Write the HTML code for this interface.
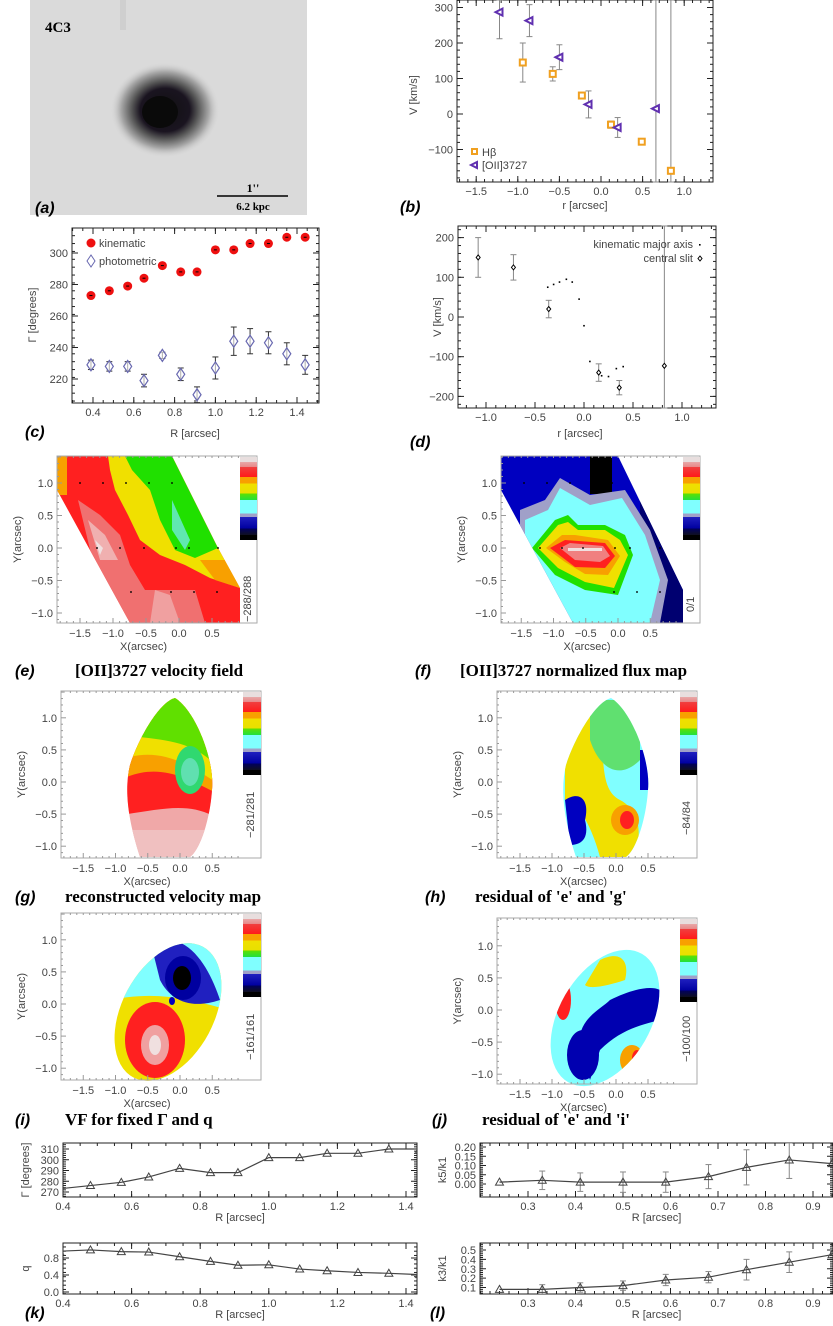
<!DOCTYPE html>
<html><head><meta charset="utf-8"><style>
html,body{margin:0;padding:0;background:#fff;}
svg{display:block;font-family:"Liberation Sans",sans-serif;}
.tl{font-size:11px;fill:#444;}
.ttl{font-family:"Liberation Serif",serif;font-weight:bold;font-size:17px;fill:#000;}
.pl{font-family:"Liberation Sans",sans-serif;font-style:italic;font-weight:bold;font-size:16px;fill:#000;}
</style></head><body>
<svg id="fig" width="833" height="1326" viewBox="0 0 833 1326" xmlns="http://www.w3.org/2000/svg">
<defs>
<radialGradient id="blob" cx="0.5" cy="0.5" r="0.5">
<stop offset="0" stop-color="#111"/><stop offset="0.45" stop-color="#1a1420"/><stop offset="0.6" stop-color="#555"/><stop offset="0.8" stop-color="#a8a8a8"/><stop offset="1" stop-color="#dcdcdc" stop-opacity="0"/>
</radialGradient>
<linearGradient id="cbar" x1="0" y1="0" x2="0" y2="1">
<stop offset="0" stop-color="#e8dede"/><stop offset="0.06" stop-color="#e8dede"/>
<stop offset="0.06" stop-color="#e8a8a8"/><stop offset="0.12" stop-color="#e88888"/>
<stop offset="0.12" stop-color="#f04040"/><stop offset="0.24" stop-color="#ff1a1a"/>
<stop offset="0.24" stop-color="#f8a000"/><stop offset="0.32" stop-color="#f8a000"/>
<stop offset="0.32" stop-color="#f0e000"/><stop offset="0.44" stop-color="#e8e000"/>
<stop offset="0.44" stop-color="#60e000"/><stop offset="0.52" stop-color="#20e040"/>
<stop offset="0.52" stop-color="#80ffff"/><stop offset="0.68" stop-color="#80ffff"/>
<stop offset="0.68" stop-color="#a0a0c8"/><stop offset="0.72" stop-color="#a0a0c8"/>
<stop offset="0.72" stop-color="#2020c0"/><stop offset="0.86" stop-color="#0000a0"/>
<stop offset="0.86" stop-color="#000060"/><stop offset="0.94" stop-color="#101020"/>
<stop offset="0.94" stop-color="#000"/><stop offset="1" stop-color="#000"/>
</linearGradient>
<clipPath id="clipE"><polygon points="57,456 172,456 218,548 240,588 240,623 130,623 57,490"/></clipPath>
<clipPath id="clipF"><polygon points="501,456 618,456 683,590 683,623 573,623 501,490"/></clipPath>
<clipPath id="clipG"><path d="M175 698 C195 710 215 760 212 790 C210 820 200 850 190 857 L140 857 C128 820 124 790 130 765 C140 735 160 702 175 698 Z"/></clipPath>
<clipPath id="clipH"><path d="M611 698 C631 710 651 760 648 790 C646 820 636 850 626 857 L576 857 C564 820 560 790 566 765 C576 735 596 702 611 698 Z"/></clipPath>
<clipPath id="clipI"><ellipse cx="168" cy="1012" rx="46" ry="74" transform="rotate(28 168 1012)"/></clipPath>
<clipPath id="clipJ"><ellipse cx="605" cy="1018" rx="46" ry="74" transform="rotate(30 605 1018)"/></clipPath>
</defs>

<!-- Panel a -->
<g>
<rect x="30" y="0" width="277" height="215" fill="#dadada"/>
<rect x="120" y="0" width="6" height="30" fill="#cfcfcf"/>
<ellipse cx="165" cy="110" rx="55" ry="48" fill="url(#blob)"/>
<ellipse cx="160" cy="112" rx="18" ry="16" fill="#0a0a0a"/>
<text x="45" y="32" font-family="Liberation Serif,serif" font-weight="bold" font-size="15">4C3</text>
<line x1="217" y1="196" x2="288" y2="196" stroke="#000" stroke-width="1.5"/>
<text x="253" y="192" text-anchor="middle" font-family="Liberation Serif,serif" font-weight="bold" font-size="12">1''</text>
<text x="253" y="210" text-anchor="middle" font-family="Liberation Serif,serif" font-weight="bold" font-size="11">6.2 kpc</text>
<text x="35" y="213" class="pl">(a)</text>
</g>

<!-- Maps -->
<g>
<g clip-path="url(#clipE)">
<rect x="50" y="450" width="200" height="180" fill="#ff2020"/>
<rect x="50" y="450" width="17" height="45" fill="#f8a000"/>
<polygon points="78,500 100,515 120,535 130,565 145,590 195,590 205,623 120,623 95,570" fill="#f07070"/>
<polygon points="88,520 105,535 118,560 100,560" fill="#f0b0b0"/>
<polygon points="95,540 103,548 100,555" fill="#f0e0e0"/>
<polygon points="155,590 170,595 180,623 150,623" fill="#f0a0a0"/>
<polygon points="108,456 172,456 218,548 240,560 240,588 210,578 185,565 160,555 140,540 128,515 115,490 110,470" fill="#f0e000"/>
<polygon points="200,560 240,560 240,588 215,580" fill="#f8a000"/>
<polygon points="125,456 172,456 218,548 195,558 175,550 160,520 150,490 132,470" fill="#20e000"/>
<polygon points="172,500 190,540 185,550 172,530" fill="#60e8b0"/>
</g>
<rect x="57" y="456" width="200" height="167" fill="none" stroke="#aaa"/>
<rect x="240" y="457" width="17" height="83" fill="url(#cbar)"/>
<text transform="translate(251,622) rotate(-90)" class="tl" font-size="10">−288/288</text>
</g>

<g>
<g clip-path="url(#clipF)">
<rect x="495" y="450" width="200" height="180" fill="#0000c0"/>
<rect x="640" y="450" width="60" height="180" fill="#000070"/>
<rect x="590" y="456" width="22" height="38" fill="#000"/>
<polygon points="520,510 545,500 560,478 590,495 625,490 650,530 668,580 660,623 560,623 540,590 520,540" fill="#a0a0c8"/>
<polygon points="525,520 548,510 560,488 590,505 622,498 645,535 660,580 650,623 565,623 545,585 525,540" fill="#80ffff"/>
<polygon points="532,548 555,520 568,515 578,525 605,525 625,535 633,555 618,595 585,590 555,575" fill="#20e000"/>
<polygon points="538,548 558,525 568,522 578,530 605,530 620,540 628,555 614,588 585,582 558,568" fill="#f0e000"/>
<polygon points="546,548 562,535 575,535 608,540 620,556 608,575 585,574 565,562" fill="#f8a000"/>
<polygon points="550,548 565,540 605,543 615,556 605,568 575,567" fill="#ff2020"/>
<polygon points="560,548 570,543 603,546 610,556 600,562 575,560" fill="#f08080"/>
<polygon points="568,548 602,548 602,551 568,551" fill="#f0e0e0"/>
</g>
<rect x="501" y="456" width="199" height="167" fill="none" stroke="#aaa"/>
<rect x="683" y="457" width="17" height="83" fill="url(#cbar)"/>
<text transform="translate(694,612) rotate(-90)" class="tl" font-size="10">0/1</text>
</g>

<g>
<g clip-path="url(#clipG)">
<rect x="120" y="690" width="100" height="170" fill="#f0a8a8"/>
<path d="M120 690 H220 V820 C190 800 160 810 120 815 Z" fill="#ff2020"/>
<path d="M120 690 H220 V795 C190 780 160 760 120 780 Z" fill="#f8a000"/>
<path d="M120 690 H220 V785 C190 765 160 745 120 760 Z" fill="#f0e000"/>
<path d="M120 690 H220 V770 C195 740 165 740 120 735 Z" fill="#60e000"/>
<ellipse cx="190" cy="770" rx="15" ry="24" fill="#30d870"/>
<ellipse cx="190" cy="772" rx="9" ry="14" fill="#60e0b0"/>
<rect x="120" y="830" width="100" height="30" fill="#f0c0c0"/>
</g>
<rect x="61" y="691" width="200" height="167" fill="none" stroke="#aaa"/>
<rect x="243" y="692" width="18" height="83" fill="url(#cbar)"/>
<text transform="translate(254,838) rotate(-90)" class="tl" font-size="10">−281/281</text>
</g>

<g>
<g clip-path="url(#clipH)">
<rect x="555" y="690" width="100" height="170" fill="#80ffff"/>
<path d="M565 760 C580 720 590 700 600 730 C605 760 600 790 620 800 C640 810 645 840 630 857 L600 857 C590 820 575 800 565 800 Z" fill="#f0e000"/>
<path d="M590 700 H640 V760 C620 780 600 770 590 740 Z" fill="#60e070"/>
<ellipse cx="625" cy="820" rx="14" ry="15" fill="#f8a000"/>
<ellipse cx="627" cy="820" rx="7" ry="9" fill="#ff2020"/>
<path d="M565 800 C580 790 590 800 585 820 C590 840 580 845 570 845 Z" fill="#0000c0"/>
<rect x="640" y="750" width="10" height="40" fill="#0000c0"/>
</g>
<rect x="497" y="691" width="200" height="167" fill="none" stroke="#aaa"/>
<rect x="680" y="692" width="17" height="83" fill="url(#cbar)"/>
<text transform="translate(690,835) rotate(-90)" class="tl" font-size="10">−84/84</text>
</g>

<g>
<g clip-path="url(#clipI)">
<rect x="110" y="930" width="120" height="160" fill="#f0e000"/>
<path d="M110 930 H230 V1010 C190 1000 160 990 110 1000 Z" fill="#80ffff"/>
<path d="M150 940 C190 930 210 970 220 1000 C190 1010 170 1000 160 980 Z" fill="#2020c0"/>
<ellipse cx="183" cy="978" rx="18" ry="22" fill="#0000a0"/>
<ellipse cx="182" cy="978" rx="9" ry="12" fill="#000"/>
<ellipse cx="155" cy="1040" rx="30" ry="38" fill="#ff2020"/>
<ellipse cx="155" cy="1045" rx="14" ry="20" fill="#f0a0a0"/>
<ellipse cx="155" cy="1045" rx="6" ry="10" fill="#f0e0e0"/>
<ellipse cx="172" cy="1001" rx="3" ry="4" fill="#0000c0"/>
</g>
<rect x="61" y="913" width="200" height="167" fill="none" stroke="#aaa"/>
<rect x="243" y="914" width="18" height="83" fill="url(#cbar)"/>
<text transform="translate(254,1060) rotate(-90)" class="tl" font-size="10">−161/161</text>
</g>

<g>
<g clip-path="url(#clipJ)">
<rect x="550" y="940" width="120" height="150" fill="#80ffff"/>
<path d="M580 1050 C575 1020 600 1010 610 1000 C630 990 650 985 660 990 L660 1020 C640 1025 620 1030 600 1050 L590 1080 Z" fill="#0000b0"/>
<ellipse cx="583" cy="1055" rx="16" ry="25" fill="#0000b0"/>
<ellipse cx="563" cy="1000" rx="8" ry="20" fill="#ff2020"/>
<path d="M600 960 C620 950 630 960 625 980 C610 985 590 990 585 985 Z" fill="#f0e000"/>
<ellipse cx="632" cy="1060" rx="12" ry="15" fill="#f8a000"/>
<ellipse cx="637" cy="1058" rx="5" ry="8" fill="#ff2020"/>
</g>
<rect x="497" y="918" width="200" height="166" fill="none" stroke="#aaa"/>
<rect x="680" y="919" width="17" height="83" fill="url(#cbar)"/>
<text transform="translate(690,1062) rotate(-90)" class="tl" font-size="10">−100/100</text>
</g>

<!-- titles -->
<text x="15" y="676" class="pl">(e)</text><text x="75" y="676" class="ttl">[OII]3727 velocity field</text>
<text x="415" y="676" class="pl">(f)</text><text x="460" y="676" class="ttl">[OII]3727 normalized flux map</text>
<text x="15" y="902" class="pl">(g)</text><text x="65" y="902" class="ttl">reconstructed velocity map</text>
<text x="425" y="902" class="pl">(h)</text><text x="475" y="902" class="ttl">residual of 'e' and 'g'</text>
<text x="15" y="1125" class="pl">(i)</text><text x="65" y="1125" class="ttl">VF for fixed Γ and q</text>
<text x="432" y="1125" class="pl">(j)</text><text x="482" y="1125" class="ttl">residual of 'e' and 'i'</text>
<text x="400" y="212" class="pl">(b)</text>
<text x="25" y="437" class="pl">(c)</text>
<text x="410" y="447" class="pl">(d)</text>
<text x="25" y="1318" class="pl">(k)</text>
<text x="430" y="1318" class="pl">(l)</text>
<g id="dyn"></g>
</svg>
<script>
// ---- data: panel b ----
const bHbR=[-0.94,-0.58,-0.23,0.12,0.49,0.84];
const bHbV=[145,113,52,-30,-78,-160];
const bHbE=[55,20,5,10,5,2000];
const bOR=[-1.22,-0.86,-0.50,-0.15,0.20,0.66];
const bOV=[287,263,160,27,-38,15];
const bOE=[75,45,35,38,28,2000];
// ---- panel c ----
const cR=[0.39,0.48,0.57,0.65,0.74,0.83,0.91,1.0,1.09,1.17,1.26,1.35,1.44];
const cKin=[273,276,279,284,292,288,288,302,302,306,306,310,310];
const cPho=[229,228,228,219,235,223,210,227,244,244,243,236,229];
const cPhoE=[3,3,3,4,2,4,5,7,9,8,7,7,6];
// ---- panel d ----
const dSlitR=[-1.08,-0.72,-0.36,0.15,0.36,0.82];
const dSlitV=[150,125,20,-140,-178,-123];
const dSlitE=[50,32,22,22,18,2000];
const dKinR=[-0.37,-0.31,-0.25,-0.18,-0.12,-0.05,0.0,0.06,0.18,0.25,0.33,0.40];
const dKinV=[75,82,88,95,88,45,-22,-112,-148,-150,-130,-125];
// ---- panel k ----
const kR=[0.39,0.48,0.57,0.65,0.74,0.83,0.91,1.0,1.09,1.17,1.26,1.35,1.44];
const kGam=[273,276,279,284,292,288,288,302,302,306,306,310,310];
const kQ=[0.96,0.99,0.95,0.94,0.83,0.72,0.63,0.64,0.54,0.50,0.46,0.44,0.41];
// ---- panel l ----
const lR=[0.24,0.33,0.41,0.50,0.59,0.68,0.76,0.85,0.94];
const lK5=[0.01,0.02,0.01,0.01,0.01,0.04,0.09,0.13,0.11];
const lK5E=[0,0.05,0.05,0.055,0.055,0.065,0.095,0.10,0];
const lK3=[0.08,0.08,0.10,0.12,0.18,0.21,0.29,0.37,0.45];
const lK3E=[0,0.05,0.05,0.05,0.06,0.06,0.11,0.11,0];
// map ticks
const mapTicks=[-1.5,-1.0,-0.5,0.0,0.5];
const mapYTicks=[1.0,0.5,0.0,-0.5,-1.0];

const NS="http://www.w3.org/2000/svg";
const root=document.getElementById('dyn');
function mk(tag,a,p){const e=document.createElementNS(NS,tag);for(const k in a)e.setAttribute(k,a[k]);(p||root).appendChild(e);return e;}
function lin(d0,d1,p0,p1){return v=>p0+(v-d0)/(d1-d0)*(p1-p0);}
function fmt(v,d){return (v<0?'−':'')+Math.abs(v).toFixed(d);}

function axes(g,L,R,T,B,sx,sy,xt,yt,xmin,ymin,xd,yd,fs,col){
  const f=mk('rect',{x:L,y:T,width:R-L,height:B-T,fill:'none',stroke:col||'#222','stroke-width':1},g);
  
  
  xt.forEach(v=>{const x=sx(v);mk('line',{x1:x,x2:x,y1:B,y2:B-6,stroke:'#222'},g);mk('line',{x1:x,x2:x,y1:T,y2:T+6,stroke:'#222'},g);
    const t=mk('text',{x:x,y:B+13,'text-anchor':'middle',class:'tl','font-size':fs||11},g);t.textContent=fmt(v,xd);
    
    });
  xmin.forEach(v=>{const x=sx(v);if(x<L||x>R)return;mk('line',{x1:x,x2:x,y1:B,y2:B-3,stroke:'#222'},g);mk('line',{x1:x,x2:x,y1:T,y2:T+3,stroke:'#222'},g);});
  yt.forEach(v=>{const y=sy(v);mk('line',{x1:L,x2:L+6,y1:y,y2:y,stroke:'#222'},g);mk('line',{x1:R,x2:R-6,y1:y,y2:y,stroke:'#222'},g);
    const t=mk('text',{x:L-4,y:y+4,'text-anchor':'end',class:'tl','font-size':fs||11},g);t.textContent=fmt(v,yd);
    
    });
  ymin.forEach(v=>{const y=sy(v);if(y<T||y>B)return;mk('line',{x1:L,x2:L+3,y1:y,y2:y,stroke:'#222'},g);mk('line',{x1:R,x2:R-3,y1:y,y2:y,stroke:'#222'},g);});
}
function range(a,b,s){const r=[];for(let v=a;v<=b+1e-9;v+=s)r.push(+v.toFixed(4));return r;}
function label(txt,x,y,rot,fs,name){const t=mk('text',{x:x,y:y,'text-anchor':'middle',class:'tl','font-size':fs||12,transform:rot?`rotate(-90 ${x} ${y})`:''});t.textContent=txt;
  
  return t;}
function errbar(g,x,y1,y2,T,B,c){y1=Math.max(T,Math.min(B,y1));y2=Math.max(T,Math.min(B,y2));mk('line',{x1:x,x2:x,y1:y1,y2:y2,stroke:c||'#888'},g);mk('line',{x1:x-3,x2:x+3,y1:y1,y2:y1,stroke:c||'#888'},g);mk('line',{x1:x-3,x2:x+3,y1:y2,y2:y2,stroke:c||'#888'},g);}

// Panel b
(function(){const g=mk('g',{});
const L=457,R=713,T=0,B=182;const sx=lin(0,1,601,684.2),sy=lin(0,100,114,78.5);
axes(g,L,R,T,B,sx,sy,[-1.5,-1.0,-0.5,0.0,0.5,1.0],[-100,0,100,200,300],range(-1.7,1.3,0.1),range(-180,320,20),1,0);
bHbR.forEach((r,i)=>{errbar(g,sx(r),sy(bHbV[i]+bHbE[i]),sy(bHbV[i]-bHbE[i]),T,B);});
bOR.forEach((r,i)=>{errbar(g,sx(r),sy(bOV[i]+bOE[i]),sy(bOV[i]-bOE[i]),T,B);});
bHbR.forEach((r,i)=>{const m=mk('rect',{x:sx(r)-3,y:sy(bHbV[i])-3,width:6,height:6,fill:'#fff',stroke:'#f0a020','stroke-width':2},g);
  
  });
bOR.forEach((r,i)=>{const x=sx(r),y=sy(bOV[i]);const m=mk('polygon',{points:`${x-4},${y} ${x+3},${y-3.5} ${x+3},${y+3.5}`,fill:'#fff',stroke:'#6030b0','stroke-width':2},g);
  
  });
mk('rect',{x:472,y:149,width:5,height:5,fill:'#fff',stroke:'#f0a020','stroke-width':2},g);
const t1=mk('text',{x:482,y:156,class:'tl','font-size':11},g);t1.textContent='Hβ';


mk('polygon',{points:'471,165 477,162 477,168',fill:'#fff',stroke:'#6030b0','stroke-width':2},g);
const t2=mk('text',{x:482,y:169,class:'tl','font-size':11},g);t2.textContent='[OII]3727';


label('r [arcsec]',585,209,false,12,'x-axis-title-b');
label('V [km/s]',417,95,true,12,'y-axis-title-b');
})();

// Panel c
(function(){const g=mk('g',{});
const L=72,R=319,T=228,B=403;const sx=lin(0.4,1.4,93,297),sy=lin(300,220,253,379);
axes(g,L,R,T,B,sx,sy,[0.4,0.6,0.8,1.0,1.2,1.4],[220,240,260,280,300],range(0.3,1.5,0.05),range(206,316,5),1,0);
cR.forEach((r,i)=>{errbar(g,sx(r),sy(cPho[i]+cPhoE[i]),sy(cPho[i]-cPhoE[i]),T,B,'#333');});
cR.forEach((r,i)=>{const x=sx(r),y=sy(cPho[i]);const m=mk('polygon',{points:`${x},${y-6} ${x+4},${y} ${x},${y+6} ${x-4},${y}`,fill:'#fff','fill-opacity':0.6,stroke:'#6868b0','stroke-width':1.2},g);
  
  });
cR.forEach((r,i)=>{const m=mk('circle',{cx:sx(r),cy:sy(cKin[i]),r:4.5,fill:'#ee1010'},g);
  
  
  mk('line',{x1:sx(r)-1.5,x2:sx(r)+1.5,y1:sy(cKin[i]),y2:sy(cKin[i]),stroke:'#000'},g);});
mk('circle',{cx:91,cy:243,r:4.5,fill:'#ee1010'},g);
const t1=mk('text',{x:99,y:247,class:'tl','font-size':12},g);t1.textContent='kinematic';


mk('polygon',{points:'91,255 95,261 91,267 87,261',fill:'none',stroke:'#6868b0'},g);
const t2=mk('text',{x:99,y:265,class:'tl','font-size':12},g);t2.textContent='photometric';


label('R [arcsec]',195,437,false,12,'x-axis-title-c');
label('Γ [degrees]',36,315,true,12,'y-axis-title-c');
})();

// Panel d
(function(){const g=mk('g',{});
const L=458,R=716,T=226,B=408;const sx=lin(0,1,584,682),sy=lin(0,100,317,277.3);
axes(g,L,R,T,B,sx,sy,[-1.0,-0.5,0.0,0.5,1.0],[-200,-100,0,100,200],range(-1.3,1.3,0.1),range(-220,220,20),1,0);
dSlitR.forEach((r,i)=>{errbar(g,sx(r),sy(dSlitV[i]+dSlitE[i]),sy(dSlitV[i]-dSlitE[i]),T,B);
  const x=sx(r),y=sy(dSlitV[i]);const m=mk('polygon',{points:`${x},${y-2.5} ${x+2},${y} ${x},${y+2.5} ${x-2},${y}`,fill:'#fff',stroke:'#000'},g);
  
  });
dKinR.forEach((r,i)=>{const m=mk('rect',{x:sx(r)-0.8,y:sy(dKinV[i])-0.8,width:1.6,height:1.6,fill:'#000'},g);
  
  });
const t1=mk('text',{x:693,y:248,'text-anchor':'end',class:'tl','font-size':11},g);t1.textContent='kinematic major axis';


mk('rect',{x:699,y:244,width:1.6,height:1.6,fill:'#000'},g);
const t2=mk('text',{x:693,y:262,'text-anchor':'end',class:'tl','font-size':11},g);t2.textContent='central slit';


mk('polygon',{points:'700,256 702,258.5 700,261 698,258.5',fill:'#fff',stroke:'#000'},g);
label('r [arcsec]',580,437,false,12,'x-axis-title-d');
label('V [km/s]',441,317,true,12,'y-axis-title-d');
})();

// Map axes
function mapAxes(name,L,R,T,B,x0,xs,y0,ys){const g=mk('g',{});
  const sx=v=>x0+v*xs,sy=v=>y0-v*ys;
  mapTicks.forEach(v=>{const t=mk('text',{x:sx(v),y:B+14,'text-anchor':'middle',class:'tl','font-size':10,fill:'#666'},g);t.textContent=fmt(v,1);
    
    });
  range(-1.8,0.9,0.1).forEach(v=>{const x=sx(v);if(x<L||x>R)return;mk('line',{x1:x,x2:x,y1:B,y2:B-(Math.abs(v*2-Math.round(v*2))<1e-6?5:2),stroke:'#999'},g);mk('line',{x1:x,x2:x,y1:T,y2:T+2,stroke:'#999'},g);});
  mapYTicks.forEach(v=>{const t=mk('text',{x:L-4,y:sy(v)+4,'text-anchor':'end',class:'tl','font-size':10,fill:'#666'},g);t.textContent=fmt(v,1);
    
    });
  range(-1.2,1.4,0.1).forEach(v=>{const y=sy(v);if(y<T||y>B)return;mk('line',{x1:L,x2:L+(Math.abs(v*2-Math.round(v*2))<1e-6?5:2),y1:y,y2:y,stroke:'#999'},g);});
  label('X(arcsec)',(L+R)/2-5,B+27,false,10,'map-x-title');
  label('Y(arcsec)',L-36,(T+B)/2,true,10,'map-y-title');
}
mapAxes('axes-e',57,240,456,623,179,66,548,65);
mapAxes('axes-f',501,683,456,623,618,64.5,548,65);
mapAxes('axes-g',61,243,691,858,180,64.5,782,64.2);
mapAxes('axes-h',497,680,691,858,616,64,782,64.2);
mapAxes('axes-i',61,243,913,1080,180,64.5,1004,64.2);
mapAxes('axes-j',497,680,918,1084,616,64,1010,64.2);
// map sample dots
[[80,483],[103,483],[126,483],[149,483],[172,483],[97,548],[120,548],[144,548],[176,548],[189,548],[218,548],[131,592],[171,592],[194,592],[217,592],
 [524,483],[547,483],[570,483],[612,483],[540,548],[562,548],[583,548],[615,548],[630,548],[660,548],[614,592],[637,592],[660,592]].forEach(p=>{
  const d=mk('rect',{x:p[0]-0.8,y:p[1]-0.8,width:1.6,height:1.6,fill:'#000'});
  
  });

// Bottom panels
function small(name,L,R,T,B,sx,sy,xt,yt,xmin,ymin,xd,yd,xs,ys,es,ylab){const g=mk('g',{});
  axes(g,L,R,T,B,sx,sy,xt,yt,xmin,ymin,xd,yd,10);
  const cp=mk('clipPath',{id:'cp'+name},g);mk('rect',{x:L,y:T,width:R-L,height:B-T},cp);
  const inner=mk('g',{'clip-path':`url(#cp${name})`},g);
  if(es)xs.forEach((x,i)=>{if(es[i])errbar(inner,sx(x),sy(ys[i]+es[i]),sy(ys[i]-es[i]),T,B);});
  const p=mk('polyline',{points:xs.map((x,i)=>sx(x)+','+sy(ys[i])).join(' '),fill:'none',stroke:'#444','stroke-width':1.2},inner);
  
  
  xs.forEach((x,i)=>{const X=sx(x),Y=sy(ys[i]);const m=mk('polygon',{points:`${X},${Y-4} ${X+4},${Y+3} ${X-4},${Y+3}`,fill:'none',stroke:'#444'},inner);
    
    });
  label('R [arcsec]',(L+R)/2,B+24,false,10,'x-axis-title');
  label(ylab,L-34,(T+B)/2,true,10,'y-axis-title');
}
small('panel-k-gamma',63,417,1143,1197,lin(0.4,1.4,63,406),lin(270,310,1192,1149),[0.4,0.6,0.8,1.0,1.2,1.4],[270,280,290,300,310],range(0.4,1.45,0.05),range(266,314,2),1,0,kR,kGam,null,'Γ [degrees]');
small('panel-k-q',63,417,1243,1294,lin(0.4,1.4,63,406),lin(0,0.8,1292,1258),[0.4,0.6,0.8,1.0,1.2,1.4],[0.0,0.4,0.8],range(0.4,1.45,0.05),range(-0.04,1.12,0.1),1,1,kR,kQ,null,'q');
small('panel-l-k5',480,833,1143,1197,lin(0.3,0.9,528,813),lin(0,0.2,1184,1147),[0.3,0.4,0.5,0.6,0.7,0.8,0.9],[0,0.05,0.1,0.15,0.2],range(0.2,0.94,0.02),range(-0.06,0.22,0.01),1,2,lR,lK5,lK5E,'k5/k1');
small('panel-l-k3',480,833,1243,1294,lin(0.3,0.9,528,813),lin(0.1,0.5,1287.5,1250),[0.3,0.4,0.5,0.6,0.7,0.8,0.9],[0.1,0.2,0.3,0.4,0.5],range(0.2,0.94,0.02),range(0.04,0.58,0.02),1,1,lR,lK3,lK3E,'k3/k1');
</script>
</body></html>
